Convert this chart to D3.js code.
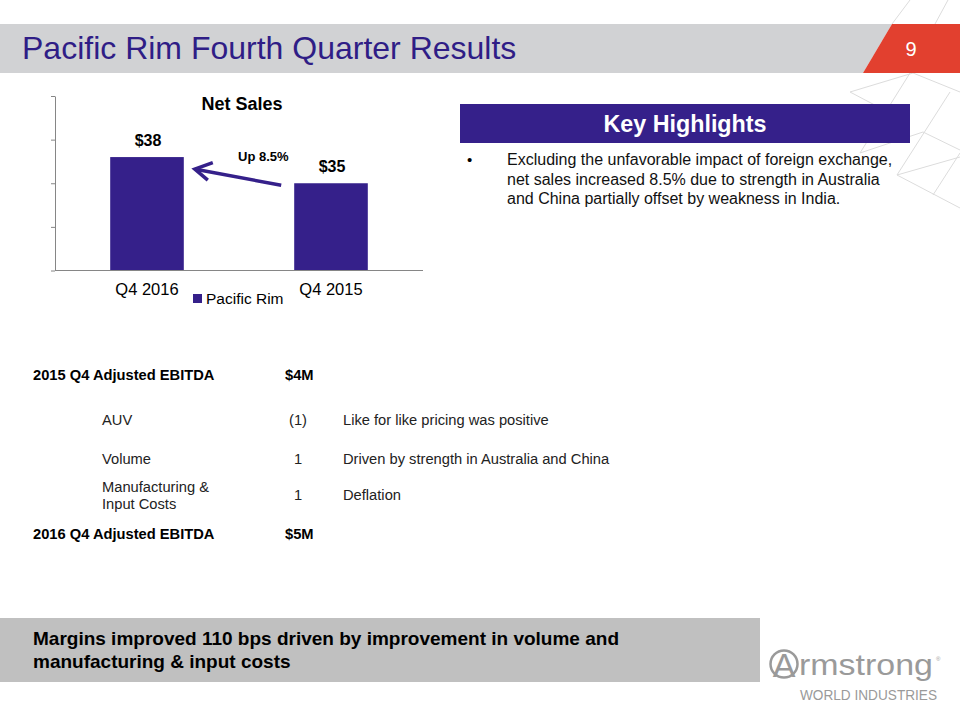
<!DOCTYPE html>
<html><head><meta charset="utf-8">
<script src="https://cdnjs.cloudflare.com/ajax/libs/d3/7.8.5/d3.min.js"></script>
<style>body{margin:0;background:#fff}svg{display:block;font-family:"Liberation Sans",Arial,sans-serif}</style>
</head><body>
<svg id="c" width="960" height="720"></svg>
<script>
// ---- data ----
const categories = ["Q4 2016", "Q4 2015"];
const netSales = [38, 35];
const valueLabels = ["$38", "$35"];
const yTicks = [25, 30, 35, 40, 45];
const seriesName = "Pacific Rim";
const changeLabel = "Up 8.5%";
const bulletLines = [
  "Excluding the unfavorable impact of foreign exchange,",
  "net sales increased 8.5% due to strength in Australia",
  "and China partially offset by weakness in India."
];
const bridgeItems = ["AUV", "Volume", "Manufacturing &|Input Costs"];
const bridgeValues = ["(1)", "1", "1"];
const bridgeNotes = ["Like for like pricing was positive", "Driven by strength in Australia and China", "Deflation"];
const ebitdaLabels = ["2015 Q4 Adjusted EBITDA", "2016 Q4 Adjusted EBITDA"];
const ebitdaValues = ["$4M", "$5M"];
const footerLines = ["Margins improved 110 bps driven by improvement in volume and", "manufacturing & input costs"];

const PURPLE = "#35208a";
const svg = d3.select("#c");

// ---- background lattice ----
const lattice = [
  [910,0,892,24],[948,0,935,24],
  [850,92,913,73],[850,92,907,122],[910,73,860,153],[950,92,897,175],
  [897,175,960,157],[897,175,960,208],[933,195,960,153],[860,153,923,132],
  [923,132,960,150],[913,73,960,92]
];
svg.append("g").selectAll("line").data(lattice).join("line")
  .attr("x1",d=>d[0]).attr("y1",d=>d[1]).attr("x2",d=>d[2]).attr("y2",d=>d[3])
  .attr("stroke","#dcdcdc").attr("stroke-width",1);

// ---- header ----
svg.append("polygon").attr("points","0,24 892,24 863,73 0,73").attr("fill","#d1d2d4");
svg.append("polygon").attr("points","892,24 960,24 960,73 863,73").attr("fill","#e2402f");
svg.append("text").attr("x",22).attr("y",59).attr("font-size",32).attr("fill","#2f1d86")
  .text("Pacific Rim Fourth Quarter Results");
svg.append("text").attr("x",911).attr("y",56).attr("text-anchor","middle").attr("font-size",20).attr("fill","#fff").text("9");

// ---- chart ----
const x = d3.scaleBand().domain(categories).range([55,423]).paddingInner(0.6).paddingOuter(0.3);
const y = d3.scaleLinear().domain([yTicks[0], yTicks[yTicks.length-1]]).range([270.5,96]);
const g = svg.append("g");
g.append("text").attr("x",242).attr("y",110).attr("text-anchor","middle").attr("font-size",18).attr("font-weight","bold").text("Net Sales");

const yAxis = g.append("g").attr("transform","translate(55,0)")
  .call(d3.axisLeft(y).tickValues(yTicks).tickFormat("").tickSize(4).tickSizeOuter(0));
yAxis.selectAll("path,line").attr("stroke","#868686");

g.selectAll("rect.bar").data(categories).join("rect").attr("class","bar")
  .attr("x",d=>x(d)).attr("width",x.bandwidth())
  .attr("y",(d,i)=>y(netSales[i])).attr("height",(d,i)=>y(yTicks[0])-y(netSales[i]))
  .attr("fill",PURPLE);

const xAxis = g.append("g").attr("transform",`translate(0,${y(yTicks[0])})`)
  .call(d3.axisBottom(x).tickSize(0).tickSizeOuter(0));
xAxis.select("path").attr("stroke","#868686").attr("d",`M55,0H423`);
xAxis.selectAll("text").attr("y",24).attr("dy",0).attr("font-size",16.5).attr("fill","#000").attr("font-family","Liberation Sans, Arial");

g.selectAll("text.vl").data(categories).join("text").attr("class","vl")
  .attr("x",d=>x(d)+x.bandwidth()/2+1).attr("y",(d,i)=>y(netSales[i])-11)
  .attr("text-anchor","middle").attr("font-size",16).attr("font-weight","bold").text((d,i)=>valueLabels[i]);

// legend
g.append("rect").attr("x",193).attr("y",294).attr("width",9).attr("height",9).attr("fill",PURPLE);
g.append("text").attr("x",206).attr("y",304).attr("font-size",15.5).text(seriesName);

// arrow annotation
const tail = [x(categories[1]) - 13, y(netSales[1]) + 2];
const tip = [x(categories[0]) + x.bandwidth() + 11, y(netSales[0]) + 12];
g.append("line").attr("x1",tail[0]).attr("y1",tail[1]).attr("x2",tip[0]+2).attr("y2",tip[1]+0.5)
  .attr("stroke",PURPLE).attr("stroke-width",3.5);
g.append("polyline").attr("points",`${tip[0]+18},${tip[1]-6.5} ${tip[0]},${tip[1]} ${tip[0]+13},${tip[1]+11}`)
  .attr("fill","none").attr("stroke",PURPLE).attr("stroke-width",3.5).attr("stroke-linejoin","miter");
g.append("text").attr("x",238).attr("y",161).attr("font-size",13).attr("font-weight","bold").text(changeLabel);

// ---- key highlights ----
svg.append("rect").attr("x",460).attr("y",104).attr("width",450).attr("height",39).attr("fill",PURPLE);
svg.append("text").attr("x",685).attr("y",132).attr("text-anchor","middle").attr("font-size",23.3)
  .attr("font-weight","bold").attr("fill","#fff").text("Key Highlights");
svg.append("text").attr("x",467).attr("y",165).attr("font-size",15).text("•");
svg.selectAll("text.bl").data(bulletLines).join("text").attr("class","bl")
  .attr("x",507).attr("y",(d,i)=>165+i*19.5).attr("font-size",16).attr("fill","#111").text(d=>d);

// ---- EBITDA bridge ----
const tb = svg.append("g").attr("font-size",14.7);
const ebY = [380, 539];
ebitdaLabels.forEach((t,i)=>{
  tb.append("text").attr("x",33).attr("y",ebY[i]).attr("font-weight","bold").text(t);
  tb.append("text").attr("x",285).attr("y",ebY[i]).attr("font-weight","bold").text(ebitdaValues[i]);
});
const rowY = [425, 464, 500];
bridgeItems.forEach((t,i)=>{
  const parts = t.split("|");
  parts.forEach((p,j)=>{
    tb.append("text").attr("x",102).attr("y",rowY[i] + (parts.length>1 ? (j-0.5)*17 : 0)).attr("fill","#222").text(p);
  });
  tb.append("text").attr("x",298).attr("y",rowY[i]).attr("text-anchor","middle").attr("fill","#222").text(bridgeValues[i]);
  tb.append("text").attr("x",343).attr("y",rowY[i]).attr("fill","#222").text(bridgeNotes[i]);
});

// ---- footer ----
svg.append("rect").attr("x",0).attr("y",618).attr("width",760).attr("height",64).attr("fill","#c0c0c0");
svg.selectAll("text.ft").data(footerLines).join("text").attr("class","ft")
  .attr("x",33).attr("y",(d,i)=>645+i*23).attr("font-size",19).attr("font-weight","bold").text(d=>d);

// logo
const lg = svg.append("g").attr("fill","#9a9a9a");
lg.append("circle").attr("cx",784).attr("cy",664).attr("r",13.5).attr("fill","none").attr("stroke","#9a9a9a").attr("stroke-width",2.5);
lg.append("text").attr("x",784).attr("y",677).attr("text-anchor","middle").attr("font-size",34).text("A");
lg.append("text").attr("x",799).attr("y",675).attr("font-size",29).attr("textLength",134).attr("lengthAdjust","spacingAndGlyphs").text("rmstrong");
lg.append("text").attr("x",936).attr("y",661).attr("font-size",6).text("®");
lg.append("text").attr("x",800).attr("y",700).attr("font-size",15).attr("textLength",137).attr("lengthAdjust","spacingAndGlyphs").text("WORLD INDUSTRIES");
</script>
</body></html>
